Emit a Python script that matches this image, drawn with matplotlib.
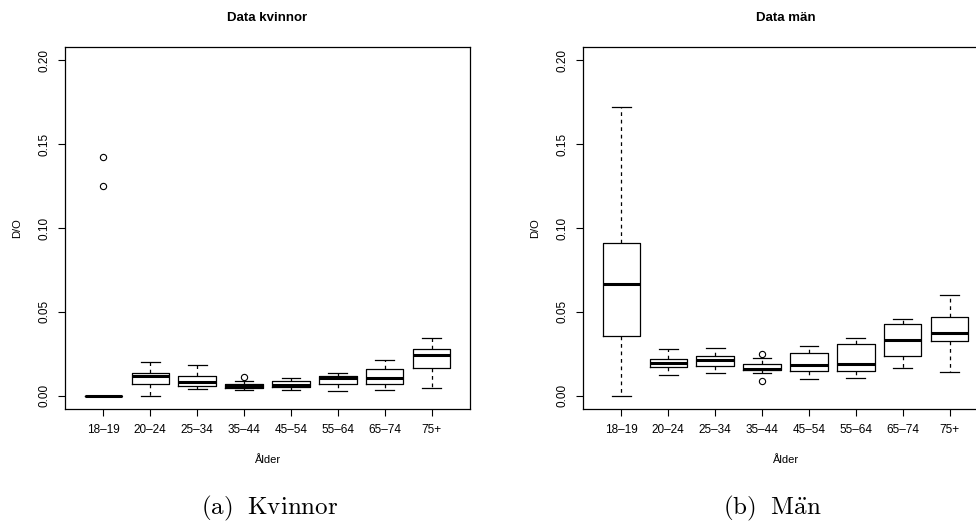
import numpy as np
import matplotlib.pyplot as plt

plt.rcParams['font.family'] = ['Liberation Sans', 'DejaVu Sans']
plt.rcParams['mathtext.fontset'] = 'cm'

# age groups
groups = ['18–19', '20–24', '25–34', '35–44', '45–54', '55–64', '65–74', '75+']

# women (Kvinnor): whisker low, q1, median, q3, whisker high
k_wlo = [0.0, 0.0, 0.0040, 0.0032, 0.0036, 0.0030, 0.0034, 0.0048]
k_q1 = [0.0, 0.0070, 0.0058, 0.0048, 0.0052, 0.0070, 0.0071, 0.0167]
k_med = [0.0, 0.0117, 0.0083, 0.0056, 0.0061, 0.0105, 0.0107, 0.0240]
k_q3 = [0.0, 0.0133, 0.0115, 0.0067, 0.0085, 0.0115, 0.0159, 0.0276]
k_whi = [0.0, 0.0200, 0.0183, 0.0085, 0.0105, 0.0133, 0.0210, 0.0341]
k_out = [[0.1425, 0.1250], [], [], [0.0113], [], [], [], []]

# men (Män)
m_wlo = [0.0, 0.0125, 0.0135, 0.0135, 0.0099, 0.0105, 0.0167, 0.0139]
m_q1 = [0.0357, 0.0171, 0.0177, 0.0153, 0.0147, 0.0149, 0.0238, 0.0325]
m_med = [0.0667, 0.0196, 0.0210, 0.0161, 0.0183, 0.0187, 0.0329, 0.0373]
m_q3 = [0.0909, 0.0216, 0.0238, 0.0188, 0.0256, 0.0306, 0.0430, 0.0468]
m_whi = [0.1722, 0.0276, 0.0284, 0.0222, 0.0298, 0.0343, 0.0460, 0.0599]
m_out = [[], [], [], [0.0248, 0.0085], [], [], [], []]

W, H = 976, 524
fig = plt.figure(figsize=(W / 100, H / 100), dpi=100)


def panel(x0, title, wlo, q1, med, q3, whi, out):
    ax = fig.add_axes([x0 / W, (H - 409) / H, 405 / W, 362 / H])
    stats = []
    for i in range(len(groups)):
        stats.append(dict(whislo=wlo[i], q1=q1[i], med=med[i], q3=q3[i],
                          whishi=whi[i], fliers=out[i]))
    ax.bxp(stats, positions=np.arange(1, 9), widths=0.8,
           boxprops=dict(color='black', lw=0.9),
           medianprops=dict(color='black', lw=2.2, solid_capstyle='butt'),
           whiskerprops=dict(color='black', lw=0.9, ls=(0, (3, 3))),
           capprops=dict(color='black', lw=0.9), capwidths=0.4,
           flierprops=dict(marker='o', mfc='none', mec='black', ms=4.5, mew=0.8))
    ax.set_xlim(0.18, 8.82)
    ax.set_ylim(-0.008, 0.208)
    yt = [0.0, 0.05, 0.10, 0.15, 0.20]
    ax.set_yticks(yt)
    ax.set_yticklabels(['%.2f' % v for v in yt], rotation=90, va='center')
    ax.set_xticks(np.arange(1, 9))
    ax.set_xticklabels(groups)
    ax.tick_params(length=5, width=0.8, labelsize=8.5, pad=5.5)
    for s in ax.spines.values():
        s.set_linewidth(0.9)
    cx = x0 + 202.5
    fig.text(cx / W, 1 - 18 / H, title, ha='center', va='center',
             fontsize=9.5, fontweight='bold')
    fig.text(cx / W, 1 - 460 / H, 'Ålder', ha='center', va='center', fontsize=8)
    fig.text((x0 - 48) / W, 1 - 228 / H, 'D/O', ha='center', va='center',
             rotation=90, fontsize=8)
    return ax


panel(65, 'Data kvinnor', k_wlo, k_q1, k_med, k_q3, k_whi, k_out)
panel(583, 'Data män', m_wlo, m_q1, m_med, m_q3, m_whi, m_out)

fig.text(270 / W, 1 - 508 / H, r'$\mathrm{(a)\ \ Kvinnor}$', ha='center',
         va='center', fontsize=18)
fig.text(772 / W, 1 - 508 / H, r'$\mathrm{(b)\ \ M\ddot{a}n}$', ha='center',
         va='center', fontsize=18)

fig.savefig('out.png', dpi=100)
